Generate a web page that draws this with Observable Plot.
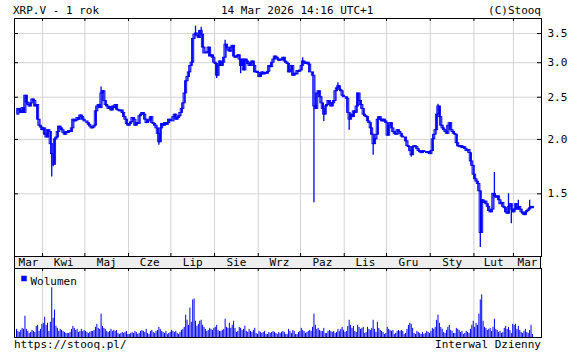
<!DOCTYPE html>
<html><head><meta charset="utf-8">
<script src="https://cdn.jsdelivr.net/npm/d3@7"></script>
<script src="https://cdn.jsdelivr.net/npm/@observablehq/plot@0.6"></script>
<style>
html,body{margin:0;padding:0;background:#fff;}
#wrap{position:relative;width:573px;height:355px;overflow:hidden;font-family:"DejaVu Sans Mono",monospace;font-size:11px;color:#000;background:#fff;}
.t{position:absolute;white-space:pre;line-height:11px;}
#band{position:absolute;left:14px;top:256px;width:527px;height:13px;background:#eeeeee;box-sizing:border-box;border-left:1px solid #000;border-right:1px solid #000;}
.p{position:absolute;left:0;}
</style></head><body>
<div id="wrap">
  <div id="band"></div>
  <div class="t" style="left:13px;top:5px">XRP.V - 1 rok</div>
  <div class="t" style="left:221px;top:5px">14 Mar 2026 14:16 UTC+1</div>
  <div class="t" style="right:32px;top:5px">(C)Stooq</div>
  <div id="main" class="p" style="top:0"></div>
  <div id="vol" class="p" style="top:268px"></div>
  <div class="t" style="left:14px;top:339px">https://stooq.pl/</div>
  <div class="t" style="right:32px;top:339px">Interwal Dzienny</div>
</div>
<script>
// ---- Daily closes (USD) ----
const pMar25 = [2.28,2.35,2.33,2.30,2.36,2.30,2.52,2.43,2.40,2.38,2.42,2.47,2.45,2.38,2.40,2.22,2.15,2.13,2.10];
const pApr25 = [2.12,2.05,2.02,2.10,2.08,1.95,1.85,1.75,2.00,2.02,2.08,2.14,2.12,2.10,2.07,2.05,2.08,2.07,2.09,2.08,2.12,2.22,2.20,2.21,2.24,2.22,2.27,2.25,2.22,2.20];
const pMay25 = [2.20,2.18,2.16,2.14,2.12,2.13,2.15,2.32,2.38,2.40,2.36,2.55,2.58,2.45,2.40,2.38,2.35,2.37,2.33,2.38,2.36,2.40,2.34,2.33,2.32,2.33,2.30,2.25,2.22,2.17,2.15];
const pJun25 = [2.17,2.19,2.24,2.22,2.15,2.18,2.17,2.26,2.28,2.30,2.28,2.22,2.18,2.20,2.22,2.25,2.18,2.17,2.15,2.12,2.06,1.97,2.12,2.17,2.15,2.18,2.16,2.18,2.22,2.20];
const pJul25 = [2.20,2.25,2.28,2.22,2.24,2.26,2.30,2.35,2.42,2.55,2.72,2.78,2.85,2.95,3.00,3.40,3.48,3.50,3.45,3.42,3.55,3.48,3.25,3.15,3.15,3.17,3.25,3.10,3.12,3.08,3.00];
const pAug25 = [2.98,2.80,2.95,3.02,2.95,3.00,3.08,3.30,3.25,3.20,3.18,3.25,3.28,3.10,3.08,3.10,3.12,3.05,2.95,3.05,2.88,3.05,3.02,2.98,2.95,3.00,3.02,2.95,2.85,2.86,2.84];
const pSep25 = [2.78,2.82,2.85,2.82,2.84,2.83,2.86,2.95,2.93,3.00,3.05,3.10,3.08,3.05,3.03,3.05,3.04,3.08,3.02,3.00,2.98,2.85,2.88,2.95,2.80,2.83,2.82,2.87,2.86,2.88];
const pOct25 = [2.95,3.02,3.00,2.98,3.00,2.97,2.85,2.85,2.80,2.38,2.35,2.55,2.58,2.50,2.42,2.35,2.28,2.38,2.40,2.45,2.42,2.38,2.42,2.45,2.58,2.62,2.65,2.60,2.58,2.52,2.50];
const pNov25 = [2.50,2.48,2.30,2.22,2.28,2.25,2.32,2.30,2.38,2.55,2.45,2.40,2.35,2.28,2.26,2.25,2.20,2.18,2.12,2.05,1.95,2.00,2.05,2.22,2.25,2.22,2.20,2.22,2.20,2.18];
const pDec25 = [2.04,2.15,2.18,2.12,2.08,2.06,2.05,2.10,2.08,2.06,2.03,2.02,2.02,1.98,1.93,1.92,1.88,1.84,1.92,1.93,1.92,1.90,1.88,1.87,1.86,1.88,1.87,1.87,1.86,1.87,1.85];
const pJan26 = [1.88,2.00,2.05,2.10,2.28,2.38,2.25,2.15,2.12,2.10,2.08,2.06,2.15,2.18,2.10,2.08,2.06,2.05,1.96,1.93,1.92,1.93,1.91,1.92,1.90,1.88,1.89,1.86,1.78,1.74,1.66];
const pFeb26 = [1.62,1.60,1.58,1.52,1.22,1.45,1.43,1.44,1.42,1.40,1.37,1.36,1.38,1.50,1.48,1.47,1.48,1.45,1.42,1.43,1.40,1.39,1.36,1.35,1.40,1.42,1.38,1.36];
const pMar26 = [1.38,1.42,1.38,1.40,1.38,1.36,1.35,1.34,1.36,1.37,1.38,1.39,1.40,1.39];

// ---- Daily volume (relative units) ----
const vMar25 = [8,6,5,7,9,8,21,8,6,4,5,7,6,5,11,12,6,8,13];
const vApr25 = [14,20,12,14,6,15,49,19,27,11,9,6,8,7,6,5,4,4,4,5,8,11,9,7,8,5,6,8,6,7];
const vMay25 = [6,5,4,5,6,6,7,10,13,9,8,23,11,9,8,6,5,6,8,6,7,6,7,4,3,4,5,4,5,6,3];
const vJun25 = [3,4,5,4,6,5,3,4,6,7,6,5,8,4,3,6,7,5,4,6,7,10,8,6,5,4,6,3,4,5];
const vJul25 = [7,6,5,6,4,3,5,7,8,10,22,17,12,29,15,37,38,16,11,13,16,17,12,10,8,6,7,9,8,7,9];
const vAug25 = [10,12,7,6,6,7,8,18,10,9,14,9,12,16,9,5,6,10,9,7,8,11,6,5,8,6,5,7,9,4,3];
const vSep25 = [6,5,4,5,6,3,3,5,4,5,6,5,4,3,5,4,5,6,5,3,3,8,6,4,7,6,3,3,5,6];
const vOct25 = [9,7,6,4,5,6,7,6,10,23,12,8,9,7,6,6,9,4,4,6,7,6,5,6,4,5,8,6,8,10,7];
const vNov25 = [5,6,11,17,12,9,11,6,5,12,10,8,9,10,4,5,10,8,7,9,17,8,5,15,9,7,6,5,3,4];
const vDec25 = [10,8,7,6,7,3,4,6,7,6,7,6,3,4,8,12,14,13,9,4,3,6,5,4,3,5,3,4,6,5,4];
const vJan26 = [6,9,8,10,17,22,14,10,8,5,4,7,10,12,7,6,4,4,9,8,7,5,6,3,4,6,5,4,8,12,16];
const vFeb26 = [10,14,12,23,37,42,16,10,9,7,8,9,6,10,18,8,7,5,6,4,5,9,11,8,10,7,4,13];
const vMar26 = [12,13,8,11,7,5,4,6,8,5,4,7,12,3];

// ---- Intraday extremes (long wicks) ----
const wickLowDates  = ["2025-04-07","2025-04-08","2025-06-22","2025-08-02","2025-08-19","2025-10-10","2025-10-17","2025-11-04","2025-11-21","2025-12-18","2026-02-05","2026-02-27"];
const wickLowValues = [1.64,1.73,1.94,2.76,2.83,1.43,2.20,2.10,1.84,1.82,1.13,1.28];
const wickHighDates  = ["2025-05-12","2025-07-18","2025-07-22","2025-08-08","2025-10-02","2025-10-27","2026-01-06","2026-02-15","2026-02-25","2026-03-04","2026-03-12"];
const wickHighValues = [2.64,3.64,3.62,3.38,3.08,2.70,2.41,1.68,1.50,1.45,1.45];

// ---- Axis labels ----
const monthLabels = ["Mar","Kwi","Maj","Cze","Lip","Sie","Wrz","Paz","Lis","Gru","Sty","Lut","Mar"];
const priceTicks = [1.5, 2.0, 2.5, 3.0, 3.5];
const firstDay = "2025-03-13";
const domainStart = "2025-03-12T02:00Z";
const domainEnd = "2026-03-20T22:00Z";

// ---- Build table ----
const closes = [pMar25,pApr25,pMay25,pJun25,pJul25,pAug25,pSep25,pOct25,pNov25,pDec25,pJan26,pFeb26,pMar26].flat();
const volumes = [vMar25,vApr25,vMay25,vJun25,vJul25,vAug25,vSep25,vOct25,vNov25,vDec25,vJan26,vFeb26,vMar26].flat();
const DAY = 864e5;
const t0 = new Date(firstDay + "T00:00Z").getTime();
const key = d => d.toISOString().slice(0,10);
const rows = closes.map((c, i) => {
  const open = i ? closes[i-1] : c;
  const date = new Date(t0 + i*DAY);
  return {date, mid: new Date(t0 + i*DAY + DAY/2), open, close: c,
          low: Math.min(open, c), high: Math.max(open, c), volume: volumes[i]};
});
const byKey = new Map(rows.map(r => [key(r.date), r]));
wickLowDates.forEach((d, i) => { const r = byKey.get(d); if (r) r.low = Math.min(r.low, wickLowValues[i]); });
wickHighDates.forEach((d, i) => { const r = byKey.get(d); if (r) r.high = Math.max(r.high, wickHighValues[i]); });

const xDomain = [new Date(domainStart), new Date(domainEnd)];
const monthStarts = d3.utcMonth.range(new Date("2025-03-13T00:00Z"), new Date("2026-03-15T00:00Z"));
const bounds = [xDomain[0], ...monthStarts, xDomain[1]];
const labelDates = bounds.slice(1).map((b, i) => new Date((bounds[i].getTime() + b.getTime())/2));
const labelOf = new Map(labelDates.map((d, i) => [d.getTime(), monthLabels[i]]));

const W = 573, ML = 14, MR = 32;
const font = {fontFamily: "'DejaVu Sans Mono', monospace", fontSize: "11px", background: "transparent", overflow: "visible", color: "#000"};
const grid = "#d3d3d3";
const blue = "#0000ff";

const main = Plot.plot({
  width: W, height: 268,
  marginLeft: ML, marginRight: MR, marginTop: 18, marginBottom: 12,
  style: font,
  x: {type: "utc", domain: xDomain, label: null},
  y: {type: "log", domain: [1.077, 3.79], label: null},
  marks: [
    Plot.ruleX(monthStarts, {stroke: grid}),
    Plot.ruleY(priceTicks, {stroke: grid}),
    Plot.rectY(rows, {x1: "date", x2: d => new Date(+d.date + 1.6*DAY), y1: "open", y2: "close", stroke: blue, strokeWidth: 0.9, fill: "none"}),
    Plot.ruleX(rows, {x: "mid", y1: "low", y2: "high", stroke: blue, strokeWidth: 1.3}),
    Plot.tickX(monthStarts, {insetBottom: 235, stroke: "#000"}),
    Plot.tickX(monthStarts, {insetTop: 235, stroke: "#000"}),
    Plot.tickY(priceTicks, {insetLeft: 523, stroke: "#000"}),
    Plot.tickY(priceTicks, {insetRight: 523, stroke: "#000"}),
    Plot.frame({stroke: "#000"}),
    Plot.axisY(priceTicks, {anchor: "right", tickSize: 0, tickPadding: 6, tickFormat: d3.format(".1f"), fill: "#000", label: null}),
    Plot.axisX(labelDates, {anchor: "bottom", tickSize: 0, tickPadding: 2, tickFormat: d => labelOf.get(d.getTime()), fill: "#000", label: null})
  ]
});
document.getElementById("main").appendChild(main);

const vol = Plot.plot({
  width: W, height: 69,
  marginLeft: ML, marginRight: MR, marginTop: 0, marginBottom: 0,
  style: font,
  x: {type: "utc", domain: xDomain, axis: null},
  y: {domain: [0, 68], axis: null},
  marks: [
    Plot.ruleX(monthStarts, {stroke: grid}),
    Plot.ruleX(rows, {x: "mid", y1: 0, y2: "volume", stroke: blue, strokeWidth: 1}),
    Plot.tickX(monthStarts, {insetBottom: 66, stroke: "#000"}),
    Plot.frame({stroke: "#000"}),
    Plot.dot([0], {frameAnchor: "top-left", dx: 9.5, dy: 10, symbol: "square", r: 3.1, fill: blue, stroke: null}),
    Plot.text(["Wolumen"], {frameAnchor: "top-left", dx: 16, dy: 9, textAnchor: "start", fill: "#000"})
  ]
});
document.getElementById("vol").appendChild(vol);
</script>
</body></html>
